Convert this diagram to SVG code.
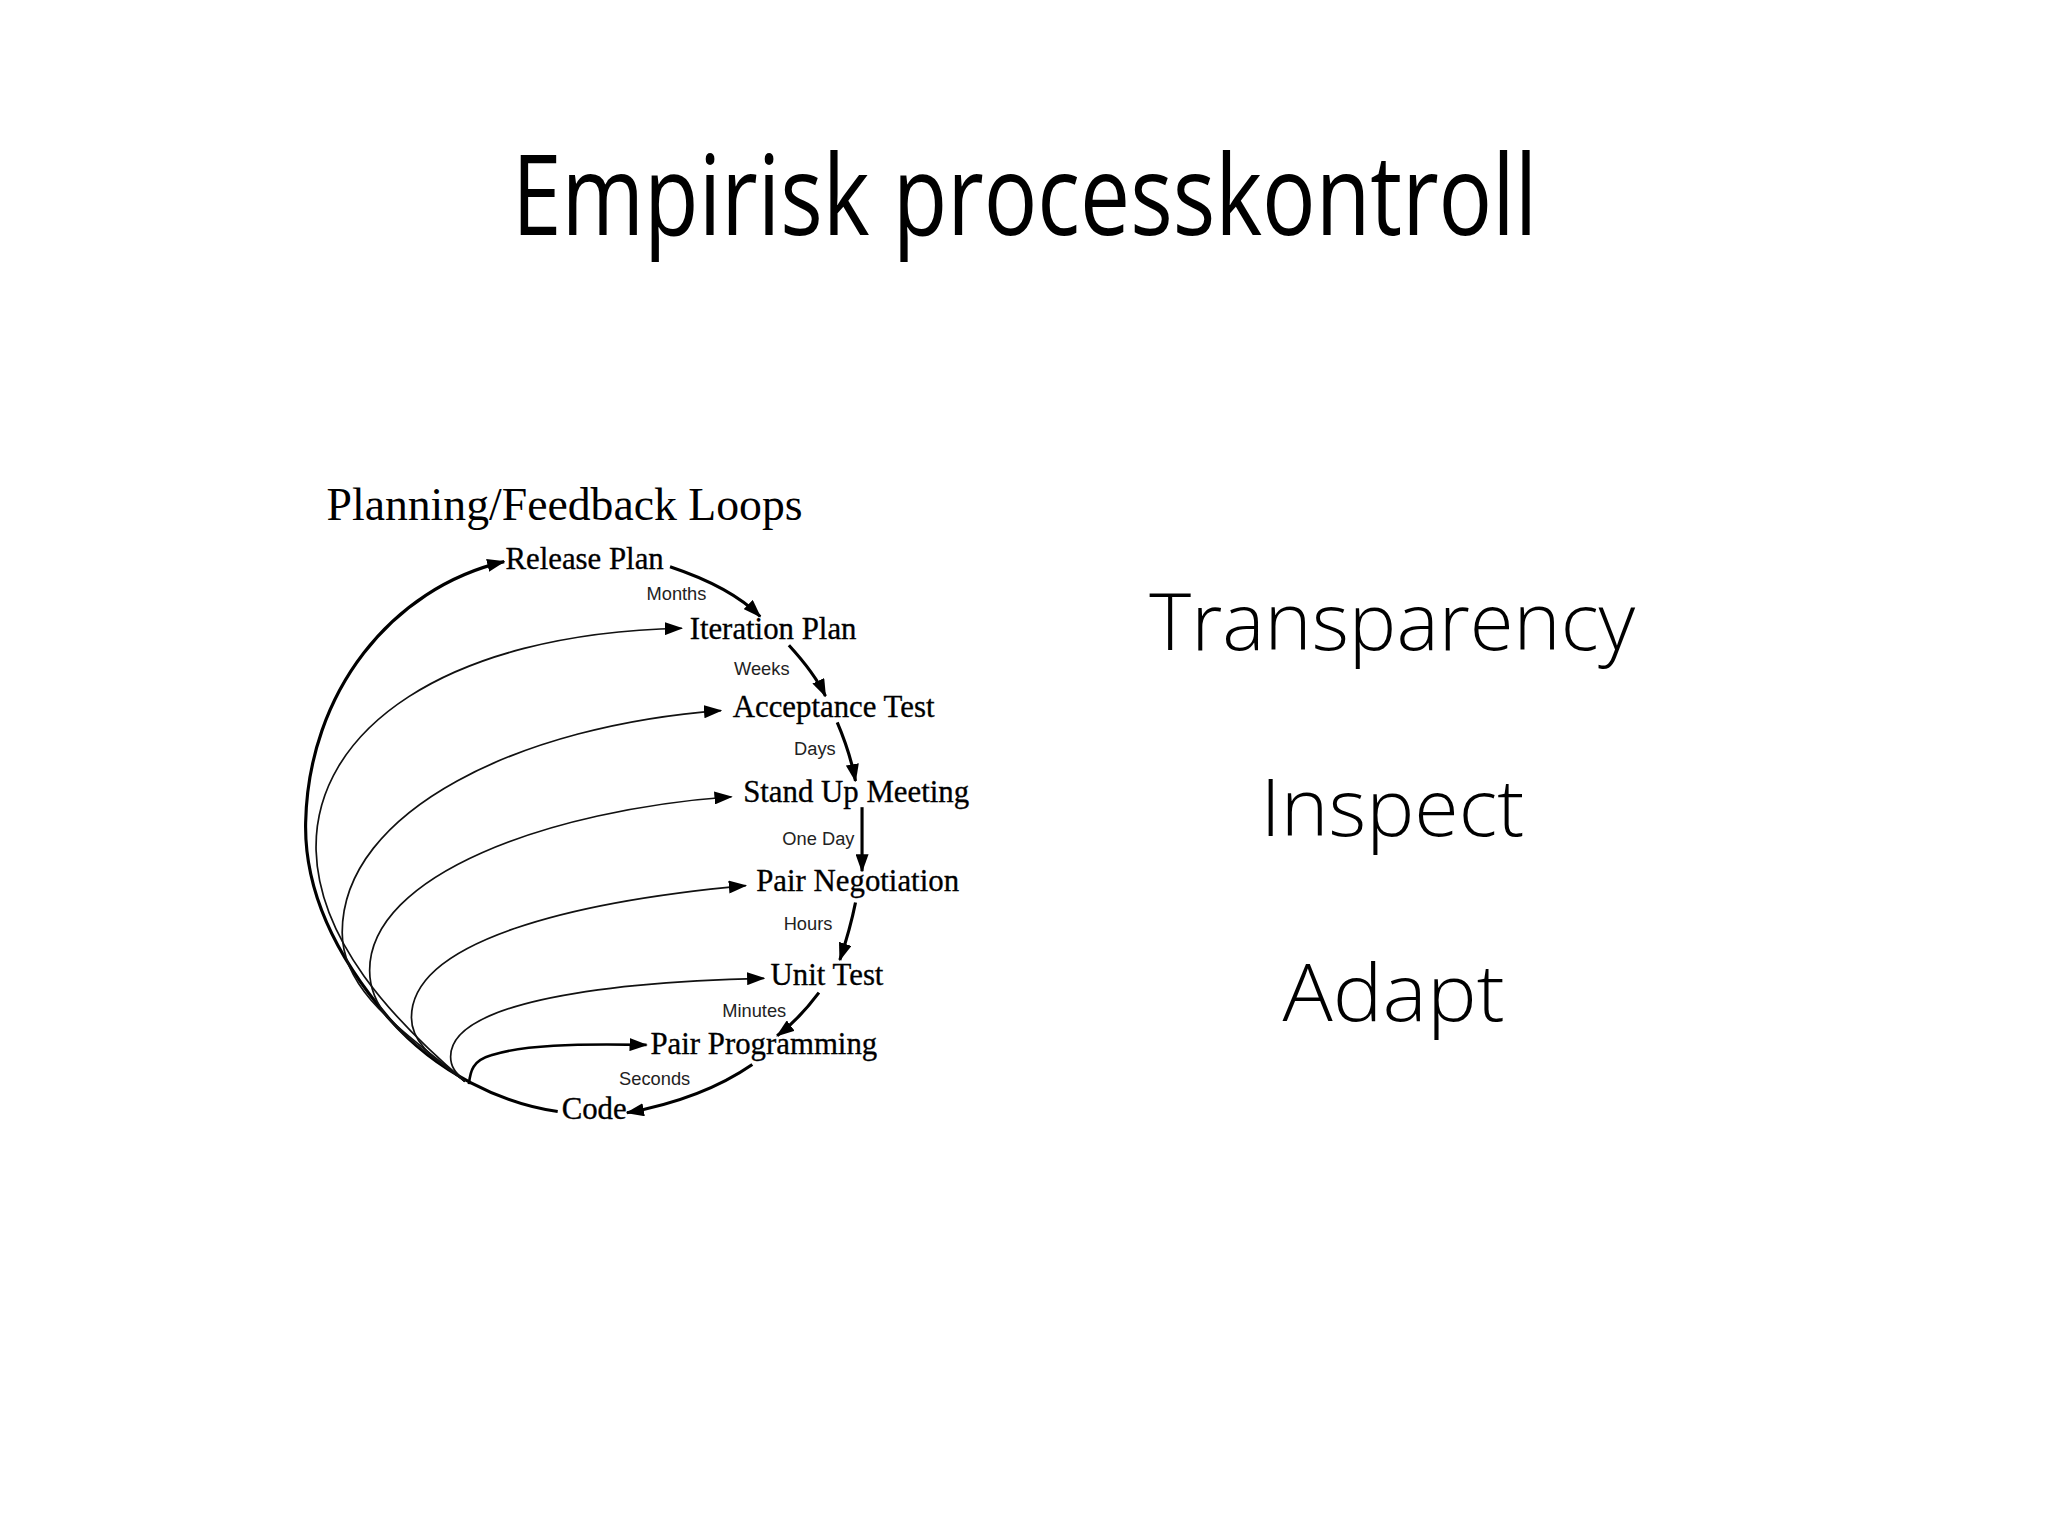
<svg xmlns="http://www.w3.org/2000/svg" width="2048" height="1535" viewBox="0 0 2048 1535">
<style>
.title{font-family:"Open Sans","Noto Sans","Liberation Sans",sans-serif;font-size:85px;fill:#000}
.big{font-family:"Open Sans","Noto Sans","Liberation Sans",sans-serif;font-weight:300;font-size:60px;fill:#000;text-anchor:middle}
.head{font-family:"Liberation Serif","Times New Roman",serif;font-size:35px;fill:#000}
.node{font-family:"Liberation Serif","Times New Roman",serif;font-size:23.6px;fill:#000;stroke:#000;stroke-width:0.25}
.lbl{font-family:"Liberation Sans",Arial,sans-serif;font-size:14px;fill:#222}
.thick{fill:none;stroke:#000;stroke-width:2.4;marker-end:url(#ah)}
.thin{fill:none;stroke:#111;stroke-width:1.3;marker-end:url(#ah)}
.mid{fill:none;stroke:#000;stroke-width:2;marker-end:url(#ah)}
</style>
<defs>
<marker id="ah" markerUnits="userSpaceOnUse" markerWidth="14" markerHeight="10" refX="13" refY="5" orient="auto">
<path d="M0,0 L14,5 L0,10 z" fill="#000"/>
</marker>
</defs>
<rect width="2048" height="1535" fill="#fff"/>
<g transform="scale(1.30612)">
<text id="title" class="title" x="392" y="180" textLength="785" lengthAdjust="spacingAndGlyphs">Empirisk processkontroll</text>
<g id="right-list">
<text class="big" x="1066" y="498" textLength="372" lengthAdjust="spacingAndGlyphs">Transparency</text>
<text class="big" x="1066" y="640" textLength="202" lengthAdjust="spacingAndGlyphs">Inspect</text>
<text class="big" x="1067" y="782" textLength="170" lengthAdjust="spacingAndGlyphs">Adapt</text>
</g>
<text id="diagram-title" class="head" x="250" y="398">Planning/Feedback Loops</text>
<g id="connectors">
<path class="thick" d="M427,851 C385,845 335,822 298,780 C255,730 233,680 234,630 C236,530 300,450 386,430"/>
<path class="thin" d="M356,828 C300,780 244,720 242,651 C240,560 340,485 522,481"/>
<path class="thin" d="M356,828 C310,790 262,760 262,714 C262,620 400,555 552,544"/>
<path class="thin" d="M356,828 C320,800 283,780 283,743 C283,670 420,620 560,610"/>
<path class="thin" d="M356,828 C335,812 315,800 315,779 C315,720 440,690 571,678"/>
<path class="thin" d="M356,828 C350,822 345,818 345,809 C345,770 450,752 585,749"/>
<path class="mid" d="M359,830 C360,820 362,812 376,808 C400,800 440,799 495,800"/>
<path class="thick" d="M513,434 C540,443 565,455 582,472"/>
<path class="thick" d="M604,494 C615,506 625,518 632,533"/>
<path class="thick" d="M641,553 C647,567 652,582 655,598"/>
<path class="thick" d="M660,618 L660,667"/>
<path class="thick" d="M655,691 C652,706 648,720 643,735"/>
<path class="thick" d="M627,760 C618,772 607,784 595,793"/>
<path class="thick" d="M576,815 C550,833 518,845 480,852"/>
</g>
<g id="release-plan"><text class="node" x="387" y="436">Release Plan</text></g>
<g id="iteration-plan"><text class="node" x="528" y="489">Iteration Plan</text></g>
<g id="acceptance-test"><text class="node" x="561" y="549">Acceptance Test</text></g>
<g id="stand-up-meeting"><text class="node" x="569" y="614">Stand Up Meeting</text></g>
<g id="pair-negotiation"><text class="node" x="579" y="682">Pair Negotiation</text></g>
<g id="unit-test"><text class="node" x="590" y="754">Unit Test</text></g>
<g id="pair-programming"><text class="node" x="498" y="807">Pair Programming</text></g>
<g id="code"><text class="node" x="430" y="857">Code</text></g>
<g id="labels">
<text class="lbl" x="495" y="459">Months</text>
<text class="lbl" x="562" y="517">Weeks</text>
<text class="lbl" x="608" y="578">Days</text>
<text class="lbl" x="599" y="647">One Day</text>
<text class="lbl" x="600" y="712">Hours</text>
<text class="lbl" x="553" y="779">Minutes</text>
<text class="lbl" x="474" y="831">Seconds</text>
</g>
</g>
</svg>
